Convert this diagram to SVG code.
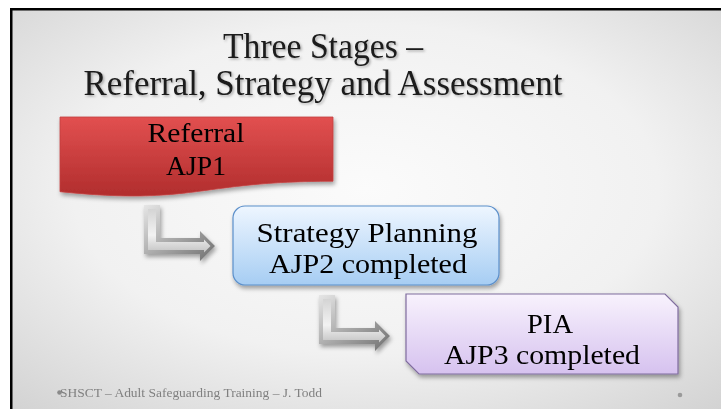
<svg xmlns="http://www.w3.org/2000/svg" width="721" height="409" viewBox="0 0 721 409">
  <defs>
    <radialGradient id="bg" cx="0.5" cy="0.45" r="0.75">
      <stop offset="0" stop-color="#fbfbfb"/>
      <stop offset="0.55" stop-color="#f1f1f1"/>
      <stop offset="1" stop-color="#d2d2d2"/>
    </radialGradient>
    <linearGradient id="red" x1="0" y1="0" x2="0" y2="1">
      <stop offset="0" stop-color="#e25050"/>
      <stop offset="1" stop-color="#b12d2d"/>
    </linearGradient>
    <linearGradient id="blue" x1="0" y1="0" x2="0" y2="1">
      <stop offset="0" stop-color="#eef6ff"/>
      <stop offset="1" stop-color="#a6cdf3"/>
    </linearGradient>
    <linearGradient id="violet" x1="0" y1="0" x2="0" y2="1">
      <stop offset="0" stop-color="#f8f2fd"/>
      <stop offset="1" stop-color="#d6c2ef"/>
    </linearGradient>
    <linearGradient id="arrowOuter" x1="0" y1="0" x2="1" y2="1">
      <stop offset="0" stop-color="#e6e6e6"/>
      <stop offset="0.5" stop-color="#a9a9a9"/>
      <stop offset="1" stop-color="#6f6f6f"/>
    </linearGradient>
    <linearGradient id="arrowInner" x1="0" y1="0" x2="0" y2="1">
      <stop offset="0" stop-color="#d4d4d4"/>
      <stop offset="0.6" stop-color="#f2f2f2"/>
      <stop offset="1" stop-color="#c4c4c4"/>
    </linearGradient>
    <filter id="shadow" x="-10%" y="-10%" width="125%" height="135%">
      <feDropShadow dx="1.5" dy="3" stdDeviation="2" flood-color="#000" flood-opacity="0.35"/>
    </filter>
    <filter id="tshadow" x="-5%" y="-20%" width="110%" height="150%">
      <feDropShadow dx="1.5" dy="1.5" stdDeviation="1" flood-color="#000" flood-opacity="0.3"/>
    </filter>
    <g id="bentArrow">
      <polygon points="0,0 16,0 16,33 56,33 56,26 71,41 56,56 56,49 0,49" fill="url(#arrowOuter)"/>
      <polygon points="4,4 12,4 12,37 60,37 60,34.5 66.5,41 60,47.5 60,45 4,45" fill="url(#arrowInner)"/>
    </g>
  </defs>
  <style>
    .title { font-family: "Liberation Serif", "DejaVu Serif", serif; font-size: 36px; fill: #1a1a1a; text-anchor: middle; }
    .node { font-family: "Liberation Serif", "DejaVu Serif", serif; font-size: 28px; fill: #000; text-anchor: middle; }
    .foot { font-family: "Liberation Serif", "DejaVu Serif", serif; font-size: 13px; fill: #808080; }
  </style>

  <rect x="0" y="0" width="721" height="409" fill="#ffffff"/>
  <rect x="11" y="9" width="710" height="400" fill="url(#bg)"/>
  <path d="M11.25,409 V9.25 H721" fill="none" stroke="#000" stroke-width="2.5"/>

  <g id="title" filter="url(#tshadow)">
    <text class="title" x="323" y="58" textLength="200" lengthAdjust="spacingAndGlyphs">Three Stages –</text>
    <text class="title" x="323" y="95" textLength="479" lengthAdjust="spacingAndGlyphs">Referral, Strategy and Assessment</text>
  </g>

  <g id="connectors" filter="url(#shadow)">
    <use href="#bentArrow" transform="translate(144,205)"/>
    <use href="#bentArrow" transform="translate(319,295)"/>
  </g>

  <g id="node-referral">
    <path d="M60,117 H333 V181.2 C196.5,181.2 196.5,205.5 60,191.7 Z" fill="url(#red)" stroke="#c24040" stroke-width="0.8" filter="url(#shadow)"/>
    <text class="node" x="196" y="142" textLength="97" lengthAdjust="spacingAndGlyphs">Referral</text>
    <text class="node" x="196" y="175" textLength="60" lengthAdjust="spacingAndGlyphs">AJP1</text>
  </g>

  <g id="node-strategy">
    <rect x="233" y="206" width="266" height="79" rx="12" ry="12" fill="url(#blue)" stroke="#5b8fca" stroke-width="1.2" filter="url(#shadow)"/>
    <text class="node" x="367" y="242" textLength="221" lengthAdjust="spacingAndGlyphs">Strategy Planning</text>
    <text class="node" x="368" y="273" textLength="198" lengthAdjust="spacingAndGlyphs">AJP2 completed</text>
  </g>

  <g id="node-pia">
    <path d="M406,294 H665 L678,307 V374 H419 L406,361 Z" fill="url(#violet)" stroke="#7f6c9e" stroke-width="1.2" filter="url(#shadow)"/>
    <text class="node" x="550" y="333" textLength="46" lengthAdjust="spacingAndGlyphs">PIA</text>
    <text class="node" x="542" y="364" textLength="196" lengthAdjust="spacingAndGlyphs">AJP3 completed</text>
  </g>

  <g id="footer">
    <circle cx="59.5" cy="392.5" r="2.3" fill="#8a8a8a"/>
    <text class="foot" x="60" y="397" textLength="262" lengthAdjust="spacingAndGlyphs">SHSCT – Adult Safeguarding Training – J. Todd</text>
    <circle cx="680" cy="395" r="2.3" fill="#9a9a9a"/>
  </g>
</svg>
